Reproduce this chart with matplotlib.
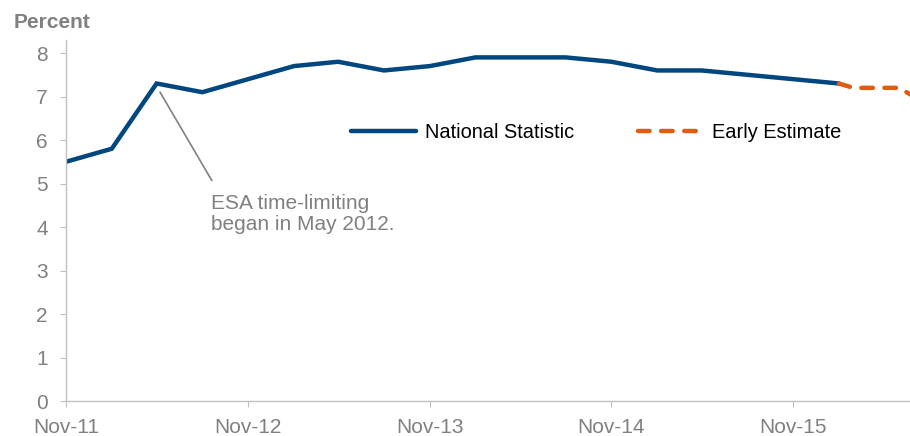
import numpy as np
import pandas as pd
import matplotlib
matplotlib.use("Agg")
import matplotlib.pyplot as plt

plt.rcParams['font.family'] = ['Liberation Sans', 'DejaVu Sans']

# National Statistic, quarterly
ns_dates = ["2011-11", "2012-02", "2012-05", "2012-08", "2012-11", "2013-02",
            "2013-05", "2013-08", "2013-11", "2014-02", "2014-05", "2014-08",
            "2014-11", "2015-02", "2015-05", "2015-08", "2015-11", "2016-02"]
ns_values = [5.5, 5.8, 7.3, 7.1, 7.4, 7.7, 7.8, 7.6, 7.7, 7.9, 7.9, 7.9,
             7.8, 7.6, 7.6, 7.5, 7.4, 7.3]

# Early Estimate, monthly
ee_dates = ["2016-02", "2016-03", "2016-04", "2016-05", "2016-06", "2016-07"]
ee_values = [7.3, 7.2, 7.2, 7.2, 7.2, 7.0]

tick_labels = ["Nov-11", "Nov-12", "Nov-13", "Nov-14", "Nov-15"]
tick_dates = ["2011-11", "2012-11", "2013-11", "2014-11", "2015-11"]

blue = "#00467f"
orange = "#e35b0e"
grey = "#808080"
fs = 15

def main():
    fig = plt.figure(figsize=(9.1, 4.36), dpi=100)
    ax = fig.add_axes([66/910, 1-401/436, 1-66/910, (401-40)/436])

    x_ns = pd.to_datetime(ns_dates)
    x_ee = pd.to_datetime(ee_dates)
    ax.plot(x_ns, ns_values, color=blue, lw=3.2, solid_capstyle='round',
            solid_joinstyle='miter', label="National Statistic")
    ax.plot(x_ee, ee_values, color=orange, lw=3.2, ls=(0, (2.6, 2.6)),
            dash_capstyle='round', label="Early Estimate")

    ax.set_ylim(0, 8.3)
    ax.set_xlim(pd.Timestamp("2011-11-01"), pd.Timestamp("2016-06-23"))
    ax.set_yticks(range(0, 9))
    ax.set_xticks(pd.to_datetime(tick_dates))
    ax.set_xticklabels(tick_labels)

    for s in ['top', 'right']:
        ax.spines[s].set_visible(False)
    for s in ['left', 'bottom']:
        ax.spines[s].set_color("#c0c0c0")
        ax.spines[s].set_linewidth(1.0)
    ax.tick_params(axis='both', colors="#c0c0c0", labelcolor=grey,
                   labelsize=fs, length=4)
    ax.tick_params(axis='y', pad=9)
    ax.tick_params(axis='x', pad=8)

    fig.text(14/910, 1-23/436, "Percent", color=grey, fontsize=fs,
             fontweight='bold', va='center', ha='left')

    # annotation
    ax.annotate("", xy=(pd.Timestamp("2012-05-08"), 7.1),
                xytext=(pd.Timestamp("2012-08-20"), 5.07),
                arrowprops=dict(arrowstyle='-', color=grey, lw=1.2,
                                shrinkA=0, shrinkB=0))
    ax.text(pd.Timestamp("2012-08-18"), 4.76,
            "ESA time-limiting\nbegan in May 2012.",
            color=grey, fontsize=fs, ha='left', va='top', linespacing=1.15)

    ax.legend(loc='center left', bbox_to_anchor=(277/844, (401-133)/361),
              ncol=2, frameon=False, fontsize=fs - 0.6, handlelength=3.25,
              handletextpad=0.45, columnspacing=3.2, borderaxespad=0)

    fig.savefig("out.png", dpi=100)

if __name__ == "__main__":
    main()
